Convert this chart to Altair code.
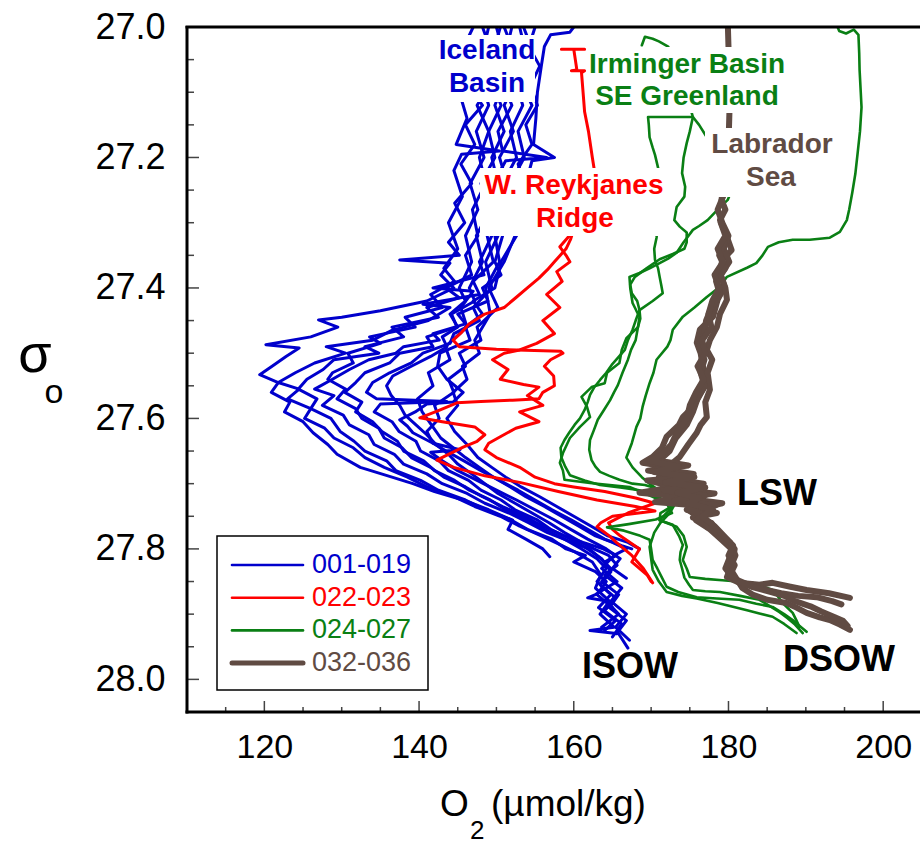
import altair as alt
import pandas as pd

# ---------------- data: (sigma0, O2) pairs along each CTD profile ----------------
B01 = [(27.00,147.0),(27.03,145.8),(27.06,147.6),(27.09,146.4),(27.12,148.2),(27.15,146.0),(27.18,147.2),(27.21,145.4),(27.24,146.8),(27.27,144.6),(27.30,145.9),(27.33,143.8),(27.35,145.2),(27.357,137.5),(27.362,144.0),(27.38,142.8),(27.40,144.5),(27.42,141.0),(27.435,135.0),(27.445,130.0),(27.449,127.0),(27.46,129.5),(27.475,126.0),(27.487,120.2),(27.492,124.5),(27.505,122.8),(27.52,121.0),(27.533,119.4),(27.545,121.8),(27.56,120.9),(27.575,123.3),(27.59,122.6),(27.605,125.0),(27.622,126.3),(27.64,128.2),(27.655,129.4),(27.675,132.4),(27.69,136.5),(27.70,139.2),(27.712,142.0),(27.725,145.7),(27.74,149.0),(27.756,152.1),(27.77,151.5),(27.785,153.8),(27.80,156.0),(27.812,156.9)]
B02 = [(27.00,151.0),(27.04,152.3),(27.08,150.6),(27.12,152.0),(27.16,150.2),(27.19,150.8),(27.20,156.5),(27.205,151.2),(27.24,149.6),(27.28,150.5),(27.32,148.8),(27.36,149.6),(27.39,147.0),(27.41,147.8),(27.425,140.5),(27.43,144.0),(27.45,141.2),(27.465,136.5),(27.48,134.0),(27.49,128.0),(27.50,130.5),(27.515,126.5),(27.53,124.0),(27.545,121.8),(27.555,124.5),(27.57,123.0),(27.585,126.0),(27.60,125.2),(27.615,127.8),(27.63,129.0),(27.645,131.5),(27.66,133.0),(27.675,135.5),(27.69,138.5),(27.705,141.0),(27.72,144.5),(27.735,147.2),(27.75,150.5),(27.765,153.0),(27.78,155.8),(27.795,158.5),(27.805,160.2),(27.82,162.4),(27.84,163.5),(27.86,162.8),(27.88,164.6),(27.90,163.4),(27.92,165.2),(27.925,162.1),(27.93,165.8),(27.952,167.0)]
B03 = [(27.00,149.0),(27.04,148.2),(27.08,149.6),(27.12,147.5),(27.16,149.0),(27.20,147.8),(27.24,148.6),(27.28,146.9),(27.32,147.6),(27.35,146.0),(27.38,146.8),(27.40,143.5),(27.415,145.2),(27.43,141.0),(27.445,142.5),(27.46,136.5),(27.475,138.0),(27.49,133.0),(27.50,134.8),(27.51,129.0),(27.525,127.6),(27.54,125.5),(27.555,124.4),(27.57,126.8),(27.585,126.0),(27.60,128.6),(27.62,129.8),(27.635,131.6),(27.65,133.0),(27.665,135.8),(27.68,137.0),(27.695,140.2),(27.71,142.5),(27.725,146.0),(27.74,148.6),(27.755,151.8),(27.77,154.0),(27.785,157.2),(27.80,159.0),(27.81,161.5),(27.82,160.0),(27.835,162.8),(27.85,164.2),(27.87,163.0),(27.89,165.0)]
B04 = [(27.00,153.5),(27.04,154.8),(27.08,153.0),(27.12,154.6),(27.16,152.8),(27.20,153.6),(27.24,151.8),(27.28,152.6),(27.32,150.8),(27.36,149.8),(27.38,150.6),(27.40,148.2),(27.42,148.9),(27.44,145.0),(27.455,146.0),(27.47,141.8),(27.48,142.6),(27.49,138.0),(27.50,137.0),(27.51,133.5),(27.525,131.0),(27.54,128.8),(27.555,126.5),(27.565,129.0),(27.58,127.5),(27.595,130.2),(27.61,131.0),(27.625,133.5),(27.64,134.2),(27.655,136.8),(27.67,138.0),(27.685,141.0),(27.70,143.0),(27.715,146.2),(27.73,148.5),(27.745,151.6),(27.76,154.2),(27.775,156.6),(27.79,159.8),(27.80,162.0),(27.815,163.5),(27.83,164.8),(27.85,163.6),(27.87,165.8),(27.89,164.6),(27.91,166.8),(27.93,165.5)]
B05 = [(27.02,145.5),(27.06,146.5),(27.10,145.2),(27.14,146.2),(27.18,144.8),(27.19,150.4),(27.195,145.5),(27.22,144.5),(27.26,145.6),(27.30,143.8),(27.34,145.0),(27.37,143.2),(27.39,144.6),(27.41,141.5),(27.43,143.0),(27.445,138.2),(27.46,139.5),(27.475,133.6),(27.485,135.0),(27.50,130.8),(27.515,131.5),(27.53,128.8),(27.54,128.2),(27.555,130.5),(27.57,129.4),(27.585,131.8),(27.60,132.6),(27.615,134.8),(27.63,135.5),(27.645,137.8),(27.66,139.0),(27.675,141.5),(27.69,143.2),(27.705,146.0),(27.72,148.2),(27.735,150.8),(27.75,153.6),(27.765,156.0),(27.78,158.8),(27.79,161.2),(27.80,163.8),(27.81,165.5),(27.82,164.0)]
B06 = [(27.00,150.0),(27.04,150.9),(27.08,149.2),(27.12,150.6),(27.16,149.0),(27.20,149.8),(27.24,148.0),(27.28,149.2),(27.32,147.4),(27.36,148.2),(27.40,146.5),(27.42,147.2),(27.44,144.2),(27.46,144.9),(27.475,141.0),(27.49,141.8),(27.50,137.5),(27.515,136.2),(27.53,133.0),(27.545,131.8),(27.56,130.4),(27.575,132.6),(27.59,131.8),(27.605,134.0),(27.62,135.2),(27.635,137.2),(27.65,138.0),(27.665,140.6),(27.68,142.0),(27.695,144.6),(27.71,146.5),(27.725,149.2),(27.74,151.2),(27.755,154.0),(27.77,156.2),(27.785,158.8),(27.80,161.0),(27.815,163.0),(27.83,164.2),(27.85,163.0),(27.87,164.8),(27.89,163.2),(27.91,165.4),(27.925,164.0)]
B07 = [(27.00,152.0),(27.04,151.2),(27.08,152.6),(27.12,151.0),(27.16,152.2),(27.20,150.4),(27.24,151.4),(27.28,149.6),(27.32,150.2),(27.36,148.6),(27.40,149.4),(27.43,147.0),(27.45,147.8),(27.47,144.5),(27.485,144.0),(27.50,140.5),(27.515,139.0),(27.53,136.2),(27.545,134.0),(27.56,133.2),(27.57,134.5),(27.574,143.6),(27.578,135.0),(27.59,134.2),(27.605,136.5),(27.62,137.4),(27.635,139.6),(27.65,140.2),(27.665,142.6),(27.68,143.8),(27.695,146.4),(27.71,148.0),(27.725,150.6),(27.74,152.4),(27.755,155.2),(27.77,157.0),(27.785,159.6),(27.80,161.8),(27.815,163.6),(27.835,164.8),(27.855,163.4),(27.875,165.4),(27.895,164.0),(27.915,166.2),(27.935,165.0)]
B08 = [(27.00,148.2),(27.04,149.4),(27.08,148.0),(27.12,149.0),(27.16,147.4),(27.20,148.4),(27.24,146.6),(27.28,147.6),(27.32,146.0),(27.36,146.8),(27.40,145.2),(27.42,146.0),(27.44,144.0),(27.46,145.0),(27.475,143.0),(27.49,143.6),(27.505,141.5),(27.52,139.0),(27.535,136.6),(27.55,135.8),(27.565,136.4),(27.58,137.5),(27.595,138.2),(27.61,139.6),(27.625,141.0),(27.64,142.2),(27.655,143.8),(27.67,145.0),(27.685,146.8),(27.70,148.5),(27.715,150.2),(27.73,152.4),(27.745,154.6),(27.76,156.8),(27.775,158.8),(27.79,161.0),(27.80,162.6),(27.81,164.5),(27.825,165.6),(27.84,164.0),(27.86,166.2),(27.88,164.8),(27.90,166.8),(27.92,165.4),(27.94,167.2)]
B09 = [(27.00,155.0),(27.03,154.2),(27.06,155.6),(27.09,154.4),(27.12,155.3),(27.15,153.8),(27.18,154.6),(27.21,152.8),(27.24,153.6),(27.28,151.8),(27.32,152.6),(27.36,150.6),(27.40,149.8),(27.42,147.0),(27.44,148.2),(27.46,146.0),(27.48,146.6),(27.50,142.7),(27.52,142.4),(27.54,143.6),(27.56,145.7),(27.575,144.4),(27.578,141.0),(27.59,139.5),(27.602,137.5),(27.612,138.5),(27.622,139.2),(27.638,141.8),(27.648,145.3),(27.652,141.5),(27.665,143.0),(27.68,145.0),(27.695,147.5),(27.71,150.0),(27.725,152.6),(27.74,155.0),(27.755,157.4),(27.77,159.6),(27.785,161.8),(27.80,164.2),(27.815,166.0),(27.83,165.0),(27.845,166.8)]
B10 = [(27.00,150.5),(27.04,149.6),(27.08,151.2),(27.12,149.8),(27.16,151.0),(27.20,149.4),(27.24,150.2),(27.28,148.6),(27.32,149.4),(27.36,147.8),(27.38,148.4),(27.40,141.8),(27.405,147.0),(27.43,145.4),(27.46,146.2),(27.49,143.4),(27.51,144.0),(27.53,141.2),(27.55,141.8),(27.57,139.8),(27.59,140.4),(27.61,141.6),(27.63,142.8),(27.645,144.4),(27.66,146.0),(27.675,147.8),(27.69,149.6),(27.705,151.8),(27.72,153.8),(27.735,156.2),(27.75,158.4),(27.765,160.6),(27.78,162.8),(27.79,165.0),(27.80,166.8),(27.81,165.2),(27.83,163.6),(27.85,165.6),(27.87,162.8),(27.875,161.8),(27.88,164.2),(27.90,165.8),(27.92,163.6)]
B11 = [(27.00,153.0),(27.04,153.8),(27.08,152.4),(27.12,153.4),(27.16,151.8),(27.20,152.6),(27.24,150.8),(27.28,151.6),(27.32,149.8),(27.36,150.4),(27.40,148.6),(27.44,149.2),(27.48,147.2),(27.50,147.8),(27.52,145.6),(27.54,146.2),(27.56,144.4),(27.58,145.0),(27.60,143.6),(27.62,144.6),(27.64,146.2),(27.66,147.6),(27.675,149.4),(27.69,151.2),(27.705,153.2),(27.72,155.6),(27.735,157.8),(27.75,160.0),(27.765,162.2),(27.78,164.4),(27.79,167.0),(27.80,168.5)]
B12 = [(27.00,160.0),(27.008,159.5),(27.012,157.0),(27.03,156.2),(27.06,155.8),(27.10,155.3),(27.14,155.1),(27.18,154.8),(27.20,157.5),(27.205,154.6),(27.24,153.8),(27.28,153.0),(27.32,152.4),(27.36,151.0),(27.40,149.0),(27.43,150.2),(27.46,147.5),(27.48,148.0),(27.50,145.2),(27.52,146.0),(27.54,143.8),(27.56,144.5),(27.58,142.0),(27.60,142.6),(27.62,141.0),(27.638,141.8),(27.65,143.5),(27.665,145.8),(27.68,148.0),(27.695,150.4),(27.71,152.8),(27.725,155.0),(27.74,157.2),(27.755,159.6),(27.77,161.8),(27.785,164.0),(27.795,166.2),(27.80,167.5)]

R01 = [(27.034,158.4),(27.034,161.4),(27.034,160.0),(27.05,160.2),(27.066,160.4),(27.067,159.7),(27.067,161.4),(27.07,161.0),(27.10,161.2),(27.13,161.4),(27.16,161.9),(27.20,162.4),(27.23,162.8),(27.26,162.0),(27.29,160.8),(27.31,160.0),(27.325,159.6),(27.34,159.0),(27.36,157.5),(27.372,156.6),(27.385,155.5),(27.40,154.0),(27.415,152.5),(27.43,151.0),(27.44,148.5),(27.455,146.5),(27.468,145.5),(27.48,144.4),(27.49,145.2),(27.494,150.0),(27.497,158.3),(27.50,158.6),(27.51,157.0),(27.52,156.2),(27.535,157.4),(27.55,157.5),(27.56,156.0),(27.57,155.5),(27.572,152.1),(27.574,148.0),(27.576,144.9),(27.588,142.5),(27.599,140.1),(27.605,143.0),(27.613,147.2),(27.625,148.5),(27.635,147.5),(27.644,145.7),(27.655,143.8),(27.664,142.3),(27.675,144.5),(27.688,148.5),(27.698,153.0),(27.712,158.0),(27.725,163.0),(27.735,168.0),(27.742,170.5),(27.75,165.0),(27.76,163.5),(27.766,163.0),(27.78,164.6),(27.79,165.5),(27.81,167.5),(27.83,169.0),(27.852,170.2)]
R02 = [(27.315,159.8),(27.337,158.2),(27.35,159.0),(27.36,159.5),(27.375,157.8),(27.39,158.5),(27.41,156.5),(27.43,158.2),(27.45,156.0),(27.47,157.5),(27.485,155.2),(27.495,153.0),(27.50,151.0),(27.51,149.5),(27.525,151.5),(27.54,150.5),(27.548,153.5),(27.552,155.5),(27.565,154.0),(27.58,156.0),(27.59,153.0),(27.605,155.5),(27.615,152.5),(27.628,150.5),(27.638,149.0),(27.648,148.5),(27.66,150.0),(27.675,153.0),(27.69,155.0),(27.70,157.5),(27.705,160.0),(27.712,164.0),(27.722,168.0),(27.73,170.5),(27.738,168.6),(27.745,167.0),(27.76,164.5),(27.77,165.0),(27.78,166.0),(27.80,168.5),(27.82,167.5),(27.84,169.5),(27.85,170.0)]

G01 = [(26.99,193.8),(27.006,194.3),(27.01,195.2),(27.004,196.2),(27.012,196.8),(27.04,196.9),(27.066,196.95),(27.10,197.1),(27.123,197.2),(27.16,197.0),(27.193,196.7),(27.225,196.4),(27.254,196.0),(27.28,195.6),(27.296,195.3),(27.314,194.4),(27.323,193.1),(27.326,190.5),(27.326,188.3),(27.33,186.5),(27.337,185.1),(27.35,184.4),(27.362,183.6),(27.369,182.4),(27.383,179.8),(27.398,178.9),(27.414,177.2),(27.43,175.6),(27.444,174.1),(27.464,172.8),(27.48,172.5),(27.49,172.1),(27.51,170.7),(27.53,170.3),(27.546,169.8),(27.565,169.3),(27.582,168.9),(27.60,168.6),(27.613,168.1),(27.638,167.5),(27.66,166.8),(27.675,167.6),(27.69,168.8),(27.70,169.8),(27.715,171.5),(27.73,173.4),(27.745,171.2),(27.756,171.1),(27.766,173.3),(27.78,174.2),(27.797,174.6),(27.817,174.1),(27.83,174.6),(27.843,175.0),(27.846,177.0),(27.848,179.2),(27.852,183.1),(27.863,185.7),(27.873,186.4),(27.883,187.0),(27.898,188.3),(27.91,188.8),(27.92,189.2)]
G02 = [(27.028,168.8),(27.015,169.2),(27.018,170.2),(27.022,171.0),(27.03,172.2),(27.06,173.5),(27.10,174.5),(27.138,175.4),(27.16,175.0),(27.178,174.6),(27.20,174.2),(27.224,174.0),(27.245,174.4),(27.26,174.3),(27.276,173.3),(27.296,173.0),(27.306,173.7),(27.315,174.6),(27.33,174.6),(27.34,174.3),(27.348,172.8),(27.356,171.1),(27.37,169.4),(27.383,167.9),(27.395,167.3),(27.408,167.5),(27.42,168.2),(27.434,168.5),(27.447,168.6),(27.46,168.3),(27.477,166.8),(27.495,166.2),(27.515,165.9),(27.53,164.3),(27.546,164.0),(27.552,162.3),(27.567,161.0),(27.582,161.7),(27.598,162.1),(27.613,160.8),(27.63,159.5),(27.653,158.6),(27.668,158.2),(27.68,158.6),(27.694,158.8),(27.699,162.1),(27.705,167.2),(27.712,168.6),(27.72,170.2),(27.73,172.0),(27.745,172.7),(27.755,170.6),(27.762,167.1),(27.767,164.3),(27.772,166.5),(27.78,168.6),(27.786,169.8),(27.80,170.0),(27.817,170.2),(27.83,170.8),(27.837,171.1),(27.858,172.0),(27.866,173.5),(27.874,175.9),(27.876,178.5),(27.878,181.4),(27.884,183.6),(27.889,185.7),(27.90,187.2),(27.909,188.3),(27.918,189.2),(27.927,190.1)]
G03 = [(27.175,178.0),(27.169,177.2),(27.15,176.2),(27.138,175.4),(27.138,172.5),(27.138,169.6),(27.15,169.7),(27.169,169.8),(27.185,170.2),(27.196,170.5),(27.216,170.9),(27.26,171.2),(27.30,170.9),(27.323,170.7),(27.34,170.4),(27.357,170.5),(27.37,170.9),(27.383,171.1),(27.395,171.3),(27.408,171.5),(27.42,170.2),(27.434,168.5),(27.45,168.0),(27.464,167.6),(27.48,167.0),(27.495,166.6),(27.518,164.9),(27.53,164.2),(27.541,163.4),(27.553,162.6),(27.564,162.1),(27.575,161.8),(27.587,161.4),(27.60,160.8),(27.61,160.1),(27.622,159.4),(27.633,158.8),(27.645,158.3),(27.66,158.4),(27.674,158.9),(27.687,159.5),(27.695,161.4),(27.702,163.4),(27.706,166.0),(27.71,168.5),(27.716,170.0),(27.722,171.1),(27.733,173.0),(27.745,172.4),(27.76,171.2),(27.775,170.4),(27.797,169.8),(27.815,170.0),(27.832,170.2),(27.85,171.0),(27.866,172.0),(27.872,174.0),(27.876,175.9),(27.883,178.6),(27.894,182.4),(27.899,184.0),(27.904,185.7),(27.915,187.2),(27.929,188.8)]
G04 = [(27.22,181.5),(27.245,180.6),(27.265,179.9),(27.28,178.6),(27.296,177.3),(27.305,176.2),(27.311,175.4),(27.33,174.2),(27.346,173.3),(27.355,172.2),(27.362,171.1),(27.37,169.8),(27.377,168.5),(27.383,167.2),(27.40,167.3),(27.423,167.6),(27.435,168.1),(27.444,168.5),(27.46,168.3),(27.48,168.0),(27.495,167.4),(27.51,167.0),(27.53,166.3),(27.549,165.7),(27.56,165.2),(27.572,164.7),(27.587,163.9),(27.602,163.1),(27.618,162.6),(27.633,162.1),(27.648,162.0),(27.664,162.3),(27.674,162.8),(27.682,163.4),(27.688,164.6),(27.694,165.9),(27.70,167.6),(27.702,169.2),(27.71,171.5),(27.72,174.1),(27.73,173.2),(27.74,172.4),(27.756,171.1),(27.763,172.8),(27.78,173.6),(27.794,174.1),(27.805,173.8),(27.817,173.7),(27.83,174.0),(27.844,174.3),(27.855,174.9),(27.863,175.4),(27.865,177.0),(27.866,178.9),(27.872,181.5),(27.878,184.0),(27.888,185.4),(27.897,186.6),(27.906,187.6),(27.916,188.6),(27.929,189.6)]

L01 = [(26.99,179.9),(27.03,180.0),(27.06,180.1),(27.10,180.2),(27.14,180.1),(27.18,180.0),(27.22,179.6),(27.265,179.1),(27.28,179.6),(27.296,178.9),(27.31,179.4),(27.322,179.8),(27.342,180.4),(27.357,179.2),(27.377,178.9),(27.398,179.5),(27.418,178.6),(27.444,178.0),(27.464,176.3),(27.484,175.9),(27.50,176.4),(27.521,176.7),(27.546,177.2),(27.56,176.5),(27.572,175.9),(27.585,175.2),(27.598,174.1),(27.61,173.6),(27.628,172.0),(27.645,171.4),(27.659,170.2),(27.668,168.9),(27.675,172.5),(27.68,170.0),(27.69,174.5),(27.695,169.5),(27.705,173.0),(27.714,168.5),(27.72,174.0),(27.728,170.5),(27.735,177.5),(27.742,175.0),(27.75,176.0),(27.766,177.2),(27.786,179.8),(27.80,180.8),(27.821,180.5),(27.843,179.8),(27.852,181.4),(27.855,184.0),(27.852,185.7),(27.858,188.0),(27.863,190.1),(27.868,193.0),(27.875,195.7)]
L02 = [(27.26,179.3),(27.28,178.6),(27.30,179.2),(27.32,180.0),(27.34,179.4),(27.36,180.1),(27.38,179.0),(27.40,179.6),(27.418,179.8),(27.44,178.9),(27.46,178.5),(27.48,177.6),(27.495,177.2),(27.51,177.9),(27.53,177.3),(27.556,177.6),(27.575,177.0),(27.598,177.2),(27.61,176.4),(27.622,175.9),(27.64,174.8),(27.659,173.7),(27.67,172.6),(27.679,172.0),(27.685,175.5),(27.69,171.0),(27.70,176.8),(27.708,172.4),(27.715,178.2),(27.722,174.0),(27.73,179.2),(27.738,176.2),(27.745,178.5),(27.752,175.4),(27.76,177.8),(27.775,178.6),(27.79,180.2),(27.81,180.9),(27.83,180.2),(27.845,181.0),(27.86,181.8),(27.87,183.1),(27.878,185.0),(27.883,187.5),(27.89,188.8),(27.898,190.1),(27.905,191.8),(27.909,193.1),(27.916,194.4),(27.924,195.7)]
L03 = [(27.33,179.5),(27.35,178.8),(27.37,179.6),(27.39,178.4),(27.41,178.9),(27.43,177.8),(27.45,177.1),(27.47,176.9),(27.49,176.2),(27.51,176.9),(27.53,176.4),(27.55,176.9),(27.57,176.0),(27.59,175.4),(27.61,174.6),(27.63,173.2),(27.65,172.4),(27.665,171.0),(27.672,174.8),(27.68,169.6),(27.688,173.8),(27.695,170.8),(27.703,175.8),(27.71,171.6),(27.718,177.0),(27.726,173.0),(27.733,178.4),(27.74,174.6),(27.748,177.0),(27.756,175.8),(27.77,177.6),(27.785,179.0),(27.80,180.4),(27.815,180.1),(27.83,179.6),(27.845,180.6),(27.855,182.6),(27.862,184.6),(27.868,186.8),(27.872,189.0),(27.874,191.4),(27.88,193.4),(27.885,194.6)]
L04 = [(27.30,179.0),(27.32,179.6),(27.34,178.6),(27.36,179.3),(27.38,178.2),(27.40,178.8),(27.42,177.9),(27.44,177.4),(27.46,177.8),(27.48,176.6),(27.50,177.0),(27.52,176.0),(27.54,176.8),(27.56,175.8),(27.58,175.0),(27.60,174.6),(27.62,173.4),(27.64,172.6),(27.655,171.4),(27.665,169.8),(27.674,173.6),(27.682,170.4),(27.69,175.6),(27.698,171.8),(27.706,177.0),(27.714,173.4),(27.722,176.2),(27.73,174.8),(27.74,178.0),(27.75,176.6),(27.765,178.2),(27.78,179.4),(27.795,180.6),(27.81,180.0),(27.825,180.8),(27.84,180.2),(27.85,181.2),(27.858,183.0),(27.866,185.4),(27.872,187.2),(27.88,188.6),(27.888,190.6),(27.896,192.0),(27.904,193.6),(27.91,194.8),(27.918,195.4)]

GROUPS = ["001-019", "022-023", "024-027", "032-036"]
COLORS = ["#0000CC", "#FF0000", "#0A7F14", "#604B43"]
WIDTHS = [3.0, 3.0, 2.6, 6.0]
PROFILES = [
    [B01, B02, B03, B04, B05, B06, B07, B08, B09, B10, B11, B12],
    [R01, R02],
    [G01, G02, G03, G04],
    [L01, L02, L03, L04],
]

X_MAJOR = [120, 140, 160, 180, 200]
X_MINOR = [115, 125, 130, 135, 145, 150, 155, 165, 170, 175, 185, 190, 195]
Y_MAJOR = [27.0, 27.2, 27.4, 27.6, 27.8, 28.0]
Y_MINOR = [27.05, 27.1, 27.15, 27.25, 27.3, 27.35, 27.45, 27.5, 27.55, 27.65, 27.7, 27.75, 27.85, 27.9, 27.95]

W, H = 731, 685
xscale = alt.Scale(domain=[110, 204.5], nice=False, zero=False)
yscale = alt.Scale(domain=[27.0, 28.05], reverse=True, nice=False, zero=False)
FONT = "Liberation Sans"
dummy = pd.DataFrame({"a": [0]})

XAX = alt.Axis(values=X_MAJOR, ticks=False, domain=False, grid=False, title=None,
               labelFont=FONT, labelFontSize=34, labelColor="black", labelPadding=18)
YAX = alt.Axis(values=Y_MAJOR, format=".1f", ticks=False, domain=False, grid=False, title=None,
               labelFont=FONT, labelFontSize=36, labelColor="black", labelPadding=22)

layers = []
for g, col, sw, profs in zip(GROUPS, COLORS, WIDTHS, PROFILES):
    rows = []
    for i, p in enumerate(profs):
        for k, (s, o) in enumerate(p):
            rows.append({"prof": f"{g}_{i}", "k": k, "sigma": s, "o2": o})
    df = pd.DataFrame(rows)
    layers.append(
        alt.Chart(df).mark_line(clip=True, color=col, strokeWidth=sw, strokeJoin="round", strokeCap="round")
        .encode(x=alt.X("o2:Q", scale=xscale, axis=XAX),
                y=alt.Y("sigma:Q", scale=yscale, axis=YAX),
                detail="prof:N", order="k:Q")
    )


def box(x1, y1, x2, y2, fill="white", stroke=None, sw=0):
    kw = dict(fill=fill)
    if stroke:
        kw.update(stroke=stroke, strokeWidth=sw)
    return alt.Chart(dummy).mark_rect(**kw).encode(
        x=alt.value(x1), x2=alt.value(x2), y=alt.value(y1), y2=alt.value(y2))


def txt(s, x, y, color="black", size=28, weight="normal", align="center", baseline="middle", font=FONT):
    return alt.Chart(dummy).mark_text(text=s, font=font, fontSize=size, fontWeight=weight, color=color,
                                      align=align, baseline=baseline).encode(x=alt.value(x), y=alt.value(y))


def seg(x1, y1, x2, y2, color="black", sw=3.0, cap="butt"):
    return alt.Chart(dummy).mark_rule(color=color, strokeWidth=sw, strokeCap=cap).encode(
        x=alt.value(x1), x2=alt.value(x2), y=alt.value(y1), y2=alt.value(y2))


# white label backgrounds
layers += [box(250, 8, 348, 75), box(401, 20, 600, 86), box(518, 101, 649, 170), box(293, 141, 481, 209)]

# region labels
BLUE, RED, GREEN, BROWN = COLORS
layers += [
    txt("Iceland", 300, 24, BLUE, 28, "bold"), txt("Basin", 300, 57, BLUE, 28, "bold"),
    txt("Irminger Basin", 500, 38, GREEN, 28, "bold"), txt("SE Greenland", 500, 70, GREEN, 28, "bold"),
    txt("Labrador", 585, 118, BROWN, 28, "bold"), txt("Sea", 584, 151, BROWN, 28, "bold"),
    txt("W. Reykjanes", 387, 159, RED, 28, "bold"), txt("Ridge", 388, 192, RED, 28, "bold"),
    txt("LSW", 590, 467, "black", 36, "bold"), txt("ISOW", 443, 640, "black", 36, "bold"),
    txt("DSOW", 652, 633, "black", 36, "bold"),
]

# tick marks (inward)
xt_major = pd.DataFrame({"o2": X_MAJOR})
xt_minor = pd.DataFrame({"o2": X_MINOR})
yt_major = pd.DataFrame({"sigma": Y_MAJOR})
yt_minor = pd.DataFrame({"sigma": Y_MINOR})
layers += [
    alt.Chart(xt_major).mark_rule(color="#444", strokeWidth=1.5).encode(
        x=alt.X("o2:Q", scale=xscale, axis=XAX), y=alt.value(H), y2=alt.value(H - 11)),
    alt.Chart(xt_minor).mark_rule(color="#444", strokeWidth=1.5).encode(
        x=alt.X("o2:Q", scale=xscale, axis=XAX), y=alt.value(H), y2=alt.value(H - 5)),
    alt.Chart(yt_major).mark_rule(color="#444", strokeWidth=1.5).encode(
        y=alt.Y("sigma:Q", scale=yscale, axis=YAX), x=alt.value(0), x2=alt.value(12)),
    alt.Chart(yt_minor).mark_rule(color="#444", strokeWidth=1.5).encode(
        y=alt.Y("sigma:Q", scale=yscale, axis=YAX), x=alt.value(0), x2=alt.value(7)),
]

# frame (left, top, bottom; right side runs off the page)
layers += [seg(0, -1, 0, H + 1.5), seg(-1.5, 0, W + 2, 0), seg(-1.5, H, W + 2, H)]

# legend
layers.append(box(30, 509, 241, 663, fill="white", stroke="black", sw=1.5))
for i, (g, col, sw) in enumerate(zip(GROUPS, COLORS, WIDTHS)):
    yy = 538 + i * 32.7
    layers.append(seg(45, yy, 116, yy, col, 2.6 if sw < 5 else 5.0, "round"))
    layers.append(txt(g, 125, yy, col, 27, "normal", "left"))

# axis titles with subscripts
layers += [
    txt("O", 253, 789, "black", 37, "normal", "left", "alphabetic"),
    txt("2", 283, 812, "black", 26, "normal", "left", "alphabetic"),
    txt("(\u00b5mol/kg)", 304, 789, "black", 37, "normal", "left", "alphabetic"),
    txt("\u03c3", -152, 345, "black", 54, "normal", "center", "alphabetic"),
    txt("o", -133, 376, "black", 34, "normal", "center", "alphabetic"),
]

chart = alt.layer(*layers).properties(
    width=W, height=H,
    autosize=alt.AutoSizeParams(type="none"),
    padding={"left": 187, "top": 27, "right": 2, "bottom": 156},
).configure_view(stroke=None)

chart.save("out.html", embed_options={"renderer": "svg", "actions": False})
